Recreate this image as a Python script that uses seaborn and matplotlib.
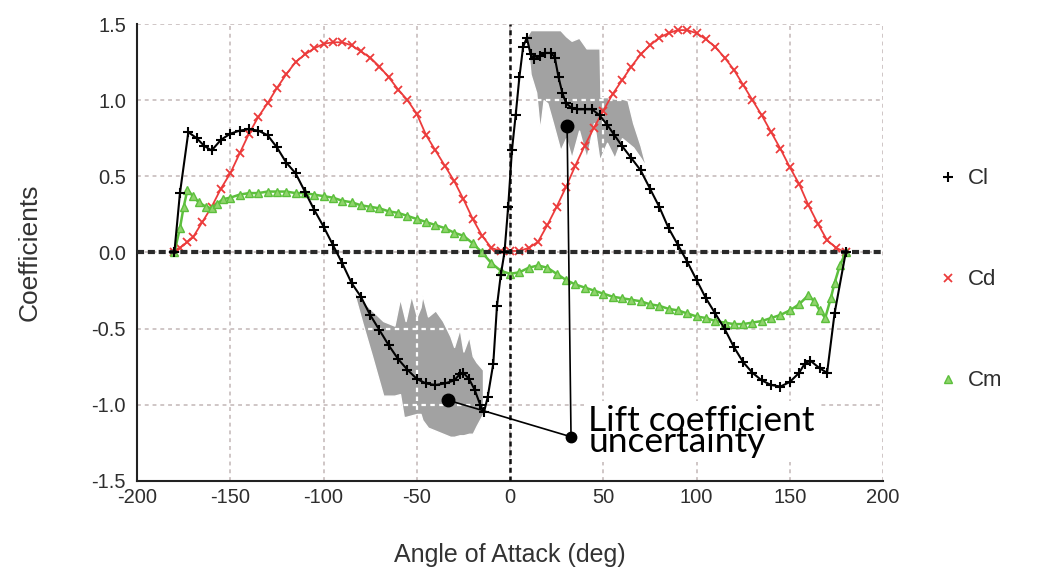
import matplotlib
matplotlib.use("Agg")
import matplotlib.pyplot as plt
import seaborn as sns
import pandas as pd
from matplotlib.lines import Line2D

# ---- data ----
angle_cl = [-180, -177, -172.5, -168, -164, -160, -155, -150, -145, -140, -135, -130,
            -125, -120, -115, -110, -105, -100, -95, -90, -85, -80, -75, -70, -65,
            -60, -55, -50, -45, -40, -35, -30, -27, -25, -22, -19, -16, -14, -12,
            -9, -7, -5, -3, -1, 1, 3, 5, 7, 9, 11, 13, 16, 19, 22, 24, 26, 28, 30,
            33, 36, 40, 44, 48, 52, 56, 60, 65, 70, 75, 80, 85, 90, 95, 100, 105,
            110, 115, 120, 125, 130, 135, 140, 145, 150, 155, 158, 161, 166, 170,
            174, 180]
cl = [0.0, 0.39, 0.79, 0.75, 0.70, 0.67, 0.74, 0.78, 0.80, 0.81, 0.80, 0.77,
      0.69, 0.59, 0.52, 0.40, 0.28, 0.17, 0.05, -0.07, -0.20, -0.29, -0.41, -0.51, -0.61,
      -0.70, -0.77, -0.83, -0.86, -0.87, -0.86, -0.84, -0.80, -0.79, -0.83, -0.90, -1.00, -1.05, -0.95,
      -0.73, -0.35, -0.15, 0.0, 0.30, 0.67, 0.90, 1.15, 1.35, 1.41, 1.30, 1.27, 1.29, 1.31, 1.31, 1.28, 1.15, 1.05, 0.98,
      0.95, 0.94, 0.94, 0.94, 0.90, 0.84, 0.77, 0.70, 0.62, 0.54, 0.42, 0.30, 0.16, 0.05, -0.06, -0.18, -0.30,
      -0.40, -0.50, -0.62, -0.72, -0.79, -0.84, -0.87, -0.88, -0.85, -0.79, -0.73, -0.71, -0.76, -0.79,
      -0.40, 0.0]

angle_cd = [-180, -177, -173, -170, -165, -160, -155, -150, -145, -140, -135, -130,
            -125, -120, -115, -110, -105, -100, -95, -90, -85, -80, -75, -70, -65,
            -60, -55, -50, -45, -40, -35, -30, -25, -20, -15, -10, -5, 0, 5, 10, 15,
            20, 25, 30, 35, 40, 45, 50, 55, 60, 65, 70, 75, 80, 85, 90, 95, 100, 105,
            110, 115, 120, 125, 130, 135, 140, 145, 150, 155, 160, 165, 170, 175, 180]
cd = [0.0, 0.03, 0.07, 0.10, 0.20, 0.30, 0.42, 0.52, 0.65, 0.78, 0.89, 0.98,
      1.08, 1.17, 1.25, 1.30, 1.34, 1.37, 1.38, 1.38, 1.36, 1.32, 1.28, 1.22, 1.15,
      1.07, 1.00, 0.91, 0.77, 0.67, 0.57, 0.47, 0.35, 0.22, 0.11, 0.03, 0.01, 0.01, 0.01, 0.03, 0.07,
      0.18, 0.30, 0.43, 0.57, 0.70, 0.82, 0.93, 1.04, 1.13, 1.22, 1.30, 1.36, 1.41, 1.44, 1.46, 1.46, 1.44, 1.40,
      1.35, 1.28, 1.20, 1.10, 1.00, 0.90, 0.79, 0.68, 0.56, 0.45, 0.31, 0.19, 0.08, 0.03, 0.0]

angle_cm = [-180, -177, -175, -173, -170, -167, -163, -160, -157, -154, -150, -145,
            -140, -135, -130, -125, -120, -115, -110, -105, -100, -95, -90, -85, -80,
            -75, -70, -65, -60, -55, -50, -45, -40, -35, -30, -25, -20, -15, -10, -5,
            0, 5, 10, 15, 20, 25, 30, 35, 40, 45, 50, 55, 60, 65, 70, 75, 80, 85, 90,
            95, 100, 105, 110, 115, 120, 125, 130, 135, 140, 145, 150, 155, 160, 163,
            166, 169, 172, 174, 177, 180]
cm = [0.0, 0.16, 0.30, 0.41, 0.37, 0.33, 0.30, 0.29, 0.32, 0.35, 0.36, 0.38,
      0.39, 0.39, 0.40, 0.40, 0.40, 0.39, 0.39, 0.38, 0.37, 0.36, 0.34, 0.33, 0.31,
      0.30, 0.29, 0.27, 0.26, 0.24, 0.22, 0.20, 0.18, 0.16, 0.13, 0.11, 0.06, 0.0, -0.07, -0.12,
      -0.14, -0.13, -0.10, -0.085, -0.10, -0.14, -0.18, -0.21, -0.23, -0.25, -0.27, -0.29, -0.30, -0.31, -0.32, -0.34, -0.35, -0.37, -0.38,
      -0.40, -0.42, -0.43, -0.45, -0.46, -0.47, -0.47, -0.46, -0.45, -0.43, -0.41, -0.38, -0.34, -0.28, -0.32,
      -0.38, -0.43, -0.30, -0.20, -0.08, 0.0]

# lift coefficient uncertainty bands
band_neg_angle = [-84, -79, -74, -68, -62, -59, -57, -56, -53, -50, -48, -47, -44, -40,
                  -36, -32, -30, -27, -25, -22, -20, -18, -14.5]
band_neg_high = [-0.25, -0.32, -0.38, -0.45, -0.48, -0.30, -0.40, -0.45, -0.28, -0.42, -0.36, -0.28, -0.42, -0.38,
                 -0.45, -0.55, -0.62, -0.50, -0.65, -0.55, -0.68, -0.72, -0.77]
band_neg_low = [-0.25, -0.47, -0.68, -0.94, -0.94, -0.93, -1.08, -1.08, -1.07, -1.06, -1.06, -1.10, -1.15, -1.17,
                -1.19, -1.21, -1.21, -1.20, -1.20, -1.19, -1.19, -1.14, -1.06]

band_pos_angle = [9, 11, 14, 16, 18, 20, 23, 27, 30, 33, 37, 41, 45, 48, 48.5, 52, 56, 60, 63, 66, 70, 73]
band_pos_high = [1.42, 1.46, 1.46, 1.46, 1.46, 1.46, 1.46, 1.46, 1.42, 1.39, 1.41, 1.34, 1.34, 1.34, 1.02,
                 1.02, 1.01, 1.01, 1.0, 0.85, 0.70, 0.56]
band_pos_low = [1.42, 1.17, 1.05, 0.80, 1.00, 0.98, 0.85, 0.67, 0.75, 0.62, 0.80, 0.62, 0.85, 0.60, 0.62,
                0.72, 0.62, 0.75, 0.72, 0.69, 0.62, 0.56]

x_ticks = [-200, -150, -100, -50, 0, 50, 100, 150, 200]
y_ticks = [-1.5, -1.0, -0.5, 0.0, 0.5, 1.0, 1.5]

# annotation anchor points (deg, coefficient)
dot_pos = (30.6, 0.83)
dot_neg = (-33.2, -0.97)
hub = (32.7, -1.21)

sns.set_style("white")
plt.rcParams["font.family"] = ["Liberation Sans", "DejaVu Sans"]
plt.rcParams["axes.unicode_minus"] = False

fig = plt.figure(figsize=(10.47, 5.69), dpi=100)
ax = fig.add_axes([0.1309, 0.1547, 0.7125, 0.8031])

grid_kw = dict(color="#cfc6c6", lw=1.4, ls=(0, (2, 2)), zorder=0.5)
for xv in x_ticks:
    ax.axvline(xv, **grid_kw)
for yv in y_ticks:
    ax.axhline(yv, **grid_kw)

bands = []
for bx, lo, hi in [(band_neg_angle, band_neg_low, band_neg_high),
                   (band_pos_angle, band_pos_low, band_pos_high)]:
    b = ax.fill_between(bx, lo, hi, color="#a2a2a2", edgecolor="white", lw=1.0, zorder=1.5)
    bands.append(b)

# white dashed grid inside the grey bands
for b in bands:
    path = b.get_paths()[0]
    for xv in x_ticks:
        ln = ax.axvline(xv, color="white", lw=1.6, ls=(0, (2, 2)), zorder=1.6)
        ln.set_clip_path(path, ax.transData)
    for yv in y_ticks:
        ln = ax.axhline(yv, color="white", lw=1.6, ls=(0, (2, 2)), zorder=1.6)
        ln.set_clip_path(path, ax.transData)

ax.axhline(0, color="#2a2a2a", lw=3, ls=(0, (1.7, 0.9)), zorder=3.5)
ax.axvline(0, color="#111111", lw=1.8, ls=(0, (2, 1.5)), zorder=3.5)

sns.lineplot(x=angle_cd, y=cd, ax=ax, color="#ec3b3b", lw=1.3, marker="x", ms=6,
             mew=1.3, mec="#ec3b3b", estimator=None, zorder=3)
sns.lineplot(x=angle_cm, y=cm, ax=ax, color="#5cbf3c", lw=1.8, marker="^", ms=6,
             mfc="#8fd46c", mec="#5cbf3c", mew=1.0, estimator=None, zorder=3.2)
sns.lineplot(x=angle_cl, y=cl, ax=ax, color="black", lw=1.5, marker="+", ms=7,
             mew=1.5, mec="black", estimator=None, zorder=4)

# annotation
ax.plot([dot_pos[0], hub[0]], [dot_pos[1], hub[1]], color="black", lw=1.2, zorder=6)
ax.plot([dot_neg[0], hub[0]], [dot_neg[1], hub[1]], color="black", lw=1.2, zorder=6)
ax.plot(*dot_pos, "o", color="black", ms=9, zorder=7)
ax.plot(*dot_neg, "o", color="black", ms=9, zorder=7)
ax.plot(*hub, "o", color="black", ms=7.5, zorder=7)
ax.text(42, -1.0, "Lift coefficient\nuncertainty", ha="left", va="top",
        fontsize=25.5, family=["Lato", "DejaVu Sans"], linespacing=0.58, color="black",
        bbox=dict(fc="white", ec="none", pad=3), zorder=5)

ax.set_xlim(-200, 200)
ax.set_ylim(-1.5, 1.5)
ax.set_xticks(x_ticks)
ax.set_yticks(y_ticks)
ax.set_xticklabels([str(v) for v in x_ticks])
ax.set_yticklabels([f"{v:.1f}" for v in y_ticks])
ax.tick_params(axis="y", direction="out", length=6, width=1.2, labelsize=14.5,
               labelcolor="#2e2e2e", color="#222222", pad=2)
ax.tick_params(axis="x", direction="in", length=7, width=1.2, labelsize=14.5,
               labelcolor="#2e2e2e", color="#222222", pad=5)
for side in ["top", "right"]:
    ax.spines[side].set_visible(False)
for side in ["left", "bottom"]:
    ax.spines[side].set_color("#222222")
    ax.spines[side].set_linewidth(1.5)

ax.set_xlabel("Angle of Attack (deg)", fontsize=18, color="#333333", labelpad=26)
ax.set_ylabel("Coefficients", fontsize=19, color="#333333", labelpad=36)

handles = [
    Line2D([], [], ls="none", marker="+", color="black", ms=7, mew=1.5),
    Line2D([], [], ls="none", marker="x", color="#ec3b3b", ms=6, mew=1.3),
    Line2D([], [], ls="none", marker="^", mfc="#8fd46c", mec="#5cbf3c", ms=6),
]
fig.legend(handles, ["Cl", "Cd", "Cm"], loc="center left", bbox_to_anchor=(0.886, 0.508),
           frameon=False, fontsize=16, labelspacing=3.6, handlelength=0.8,
           handletextpad=0.5, borderpad=0, labelcolor="#2e2e2e")

fig.savefig("out.png", dpi=100)
